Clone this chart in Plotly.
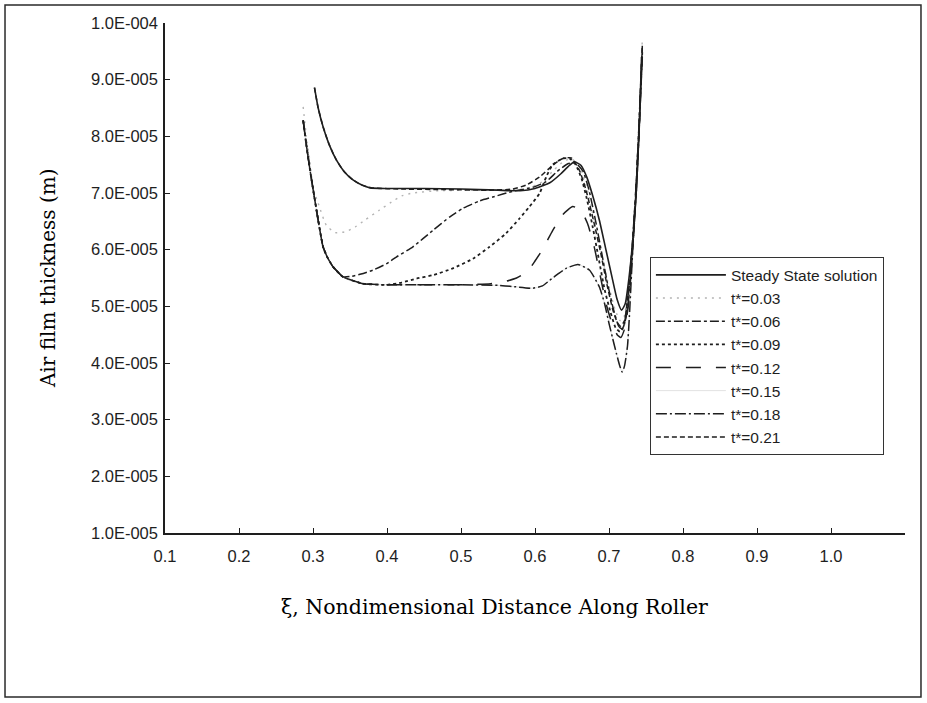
import plotly.graph_objects as go

# ---------------- data (x: nondimensional distance, y: air film thickness in m) ----------------
steady_x = [0.302, 0.307, 0.3136, 0.322, 0.3317, 0.342, 0.354, 0.366, 0.377, 0.40, 0.45, 0.50, 0.55, 0.58,
            0.60, 0.62, 0.635, 0.645, 0.653, 0.662, 0.67, 0.678, 0.687, 0.696, 0.704, 0.711, 0.717, 0.722,
            0.727, 0.732, 0.737, 0.741, 0.744]
steady_y = [8.86e-5, 8.50e-5, 8.17e-5, 7.85e-5, 7.58e-5, 7.38e-5, 7.23e-5, 7.14e-5, 7.09e-5, 7.08e-5, 7.08e-5,
            7.07e-5, 7.05e-5, 7.04e-5, 7.08e-5, 7.18e-5, 7.34e-5, 7.47e-5, 7.55e-5, 7.49e-5, 7.28e-5, 6.95e-5,
            6.52e-5, 5.99e-5, 5.52e-5, 5.12e-5, 4.93e-5, 5.05e-5, 5.50e-5, 6.15e-5, 7.05e-5, 8.20e-5, 9.40e-5]

t003_x = [0.2867, 0.291, 0.296, 0.300, 0.307, 0.318, 0.330, 0.345, 0.357, 0.370, 0.390, 0.406, 0.420, 0.435,
          0.470, 0.520, 0.560, 0.590, 0.610, 0.625, 0.640, 0.650, 0.660, 0.670, 0.680, 0.690, 0.700, 0.708,
          0.715, 0.720, 0.726, 0.732, 0.737, 0.741, 0.745]
t003_y = [8.52e-5, 8.00e-5, 7.55e-5, 7.10e-5, 6.82e-5, 6.43e-5, 6.30e-5, 6.32e-5, 6.40e-5, 6.52e-5, 6.70e-5,
          6.84e-5, 6.95e-5, 7.00e-5, 7.04e-5, 7.05e-5, 7.05e-5, 7.08e-5, 7.20e-5, 7.40e-5, 7.57e-5, 7.60e-5,
          7.45e-5, 7.10e-5, 6.50e-5, 5.90e-5, 5.35e-5, 4.95e-5, 4.75e-5, 4.80e-5, 5.30e-5, 6.10e-5, 7.10e-5,
          8.30e-5, 9.72e-5]

t006_x = [0.2867, 0.291, 0.296, 0.3047, 0.3136, 0.320, 0.327, 0.3406, 0.352, 0.365, 0.381, 0.399, 0.4126,
          0.435, 0.462, 0.485, 0.5026, 0.525, 0.543, 0.570, 0.597, 0.615, 0.630, 0.645, 0.655, 0.665, 0.673,
          0.682, 0.690, 0.698, 0.706, 0.713, 0.718, 0.723, 0.728, 0.733, 0.738, 0.742, 0.745]
t006_y = [8.28e-5, 7.85e-5, 7.40e-5, 6.70e-5, 6.05e-5, 5.85e-5, 5.70e-5, 5.52e-5, 5.53e-5, 5.57e-5, 5.64e-5,
          5.75e-5, 5.87e-5, 6.05e-5, 6.34e-5, 6.58e-5, 6.73e-5, 6.86e-5, 6.93e-5, 7.03e-5, 7.10e-5, 7.20e-5,
          7.38e-5, 7.52e-5, 7.53e-5, 7.38e-5, 7.05e-5, 6.50e-5, 5.95e-5, 5.40e-5, 4.95e-5, 4.65e-5, 4.60e-5,
          4.80e-5, 5.30e-5, 6.20e-5, 7.30e-5, 8.50e-5, 9.60e-5]

t009_x = [0.2867, 0.291, 0.296, 0.3047, 0.3136, 0.320, 0.327, 0.3406, 0.3676, 0.40, 0.42, 0.44, 0.462, 0.489,
          0.516, 0.5386, 0.561, 0.579, 0.5926, 0.606, 0.615, 0.624, 0.6376, 0.6466, 0.655, 0.663, 0.670,
          0.678, 0.686, 0.694, 0.702, 0.709, 0.715, 0.720, 0.726, 0.732, 0.737, 0.741, 0.745]
t009_y = [8.28e-5, 7.85e-5, 7.40e-5, 6.70e-5, 6.05e-5, 5.85e-5, 5.70e-5, 5.52e-5, 5.40e-5, 5.38e-5, 5.42e-5,
          5.49e-5, 5.55e-5, 5.67e-5, 5.84e-5, 6.05e-5, 6.29e-5, 6.55e-5, 6.76e-5, 6.99e-5, 7.28e-5, 7.50e-5,
          7.61e-5, 7.61e-5, 7.50e-5, 7.25e-5, 6.90e-5, 6.40e-5, 5.85e-5, 5.30e-5, 4.90e-5, 4.62e-5, 4.55e-5,
          4.65e-5, 5.20e-5, 6.10e-5, 7.10e-5, 8.30e-5, 9.50e-5]

t012_x = [0.2867, 0.291, 0.296, 0.3047, 0.3136, 0.320, 0.327, 0.3406, 0.3676, 0.40, 0.45, 0.50, 0.54, 0.56,
          0.575, 0.59, 0.60, 0.61, 0.624, 0.6376, 0.651, 0.662, 0.671, 0.680, 0.688, 0.696, 0.704, 0.711,
          0.716, 0.721, 0.726, 0.731, 0.736, 0.741, 0.745]
t012_y = [8.28e-5, 7.85e-5, 7.40e-5, 6.70e-5, 6.05e-5, 5.85e-5, 5.70e-5, 5.52e-5, 5.40e-5, 5.38e-5, 5.38e-5,
          5.38e-5, 5.40e-5, 5.44e-5, 5.50e-5, 5.62e-5, 5.80e-5, 6.00e-5, 6.34e-5, 6.62e-5, 6.76e-5, 6.70e-5,
          6.46e-5, 6.05e-5, 5.55e-5, 5.05e-5, 4.70e-5, 4.50e-5, 4.45e-5, 4.60e-5, 5.00e-5, 5.90e-5, 7.00e-5,
          8.30e-5, 9.50e-5]

low_x = [0.2867, 0.291, 0.296, 0.3047, 0.3136, 0.320, 0.327, 0.3406, 0.3676, 0.40, 0.45, 0.50, 0.55, 0.57,
         0.597, 0.61, 0.62, 0.632, 0.642, 0.658, 0.6735, 0.687, 0.694, 0.700, 0.705, 0.710, 0.7145, 0.7177,
         0.721, 0.725, 0.7275, 0.732, 0.7365, 0.741, 0.745]
low_y = [8.28e-5, 7.85e-5, 7.40e-5, 6.70e-5, 6.05e-5, 5.85e-5, 5.70e-5, 5.52e-5, 5.40e-5, 5.38e-5, 5.38e-5,
         5.38e-5, 5.37e-5, 5.35e-5, 5.32e-5, 5.36e-5, 5.46e-5, 5.58e-5, 5.67e-5, 5.74e-5, 5.64e-5, 5.34e-5,
         5.05e-5, 4.70e-5, 4.43e-5, 4.17e-5, 3.95e-5, 3.84e-5, 3.95e-5, 4.30e-5, 4.81e-5, 5.99e-5, 7.00e-5,
         8.20e-5, 9.40e-5]

t021_x = [0.302, 0.307, 0.3136, 0.322, 0.3317, 0.342, 0.354, 0.366, 0.38, 0.42, 0.48, 0.54, 0.57, 0.588,
          0.606, 0.624, 0.6376, 0.649, 0.660, 0.669, 0.680, 0.689, 0.697, 0.705, 0.711, 0.716, 0.721, 0.726,
          0.731, 0.736, 0.741, 0.745]
t021_y = [8.86e-5, 8.50e-5, 8.17e-5, 7.85e-5, 7.58e-5, 7.38e-5, 7.23e-5, 7.14e-5, 7.09e-5, 7.07e-5, 7.06e-5,
          7.05e-5, 7.07e-5, 7.14e-5, 7.28e-5, 7.49e-5, 7.61e-5, 7.62e-5, 7.40e-5, 7.05e-5, 6.46e-5, 5.93e-5,
          5.40e-5, 4.95e-5, 4.72e-5, 4.65e-5, 4.75e-5, 5.25e-5, 6.00e-5, 7.00e-5, 8.30e-5, 9.60e-5]

x_ticks = [0.1, 0.2, 0.3, 0.4, 0.5, 0.6, 0.7, 0.8, 0.9, 1.0]
x_ticktext = ["0.1", "0.2", "0.3", "0.4", "0.5", "0.6", "0.7", "0.8", "0.9", "1.0"]
y_ticks = [1e-5, 2e-5, 3e-5, 4e-5, 5e-5, 6e-5, 7e-5, 8e-5, 9e-5, 1e-4]
y_ticktext = ["1.0E-005", "2.0E-005", "3.0E-005", "4.0E-005", "5.0E-005",
              "6.0E-005", "7.0E-005", "8.0E-005", "9.0E-005", "1.0E-004"]

# ---------------- figure ----------------
INK = "#1e1e1e"
fig = go.Figure()

def add(x, y, name, dash, color=INK, width=1.5, rank=1):
    fig.add_trace(go.Scatter(x=x, y=y, mode="lines", name=name, legendrank=rank,
                             line=dict(color=color, width=width, dash=dash, shape="spline", smoothing=0.5)))

# drawing order (faint ones underneath), legend order via legendrank
add(low_x, low_y, "t*=0.15", "solid", color="#e2e2e2", width=1.0, rank=6)
add(t003_x, t003_y, "t*=0.03", "2px,5px", color="#b4b4b4", width=1.4, rank=2)
add(low_x, low_y, "t*=0.18", "11px,3px,2px,3px", rank=7)
add(t012_x, t012_y, "t*=0.12", "longdash", rank=5)
add(t009_x, t009_y, "t*=0.09", "dot", width=1.8, rank=4)
add(t006_x, t006_y, "t*=0.06", "dashdot", rank=3)
add(t021_x, t021_y, "t*=0.21", "5px,3px", rank=8)
add(steady_x, steady_y, "Steady State solution", "solid", width=1.6, rank=1)

fig.update_layout(
    width=927, height=703,
    margin=dict(l=165, r=22, t=23, b=170),
    paper_bgcolor="white", plot_bgcolor="white",
    font=dict(family="Arial, Liberation Sans, sans-serif", color=INK, size=16),
    showlegend=True,
    legend=dict(x=0.655, y=0.541, xanchor="left", yanchor="top",
                bgcolor="white", bordercolor="#333333", borderwidth=1.2,
                font=dict(family="Arial, Liberation Sans, sans-serif", size=15.5, color=INK),
                itemwidth=70, tracegroupgap=0),
    xaxis=dict(range=[0.1, 1.1], tickvals=x_ticks, ticktext=x_ticktext,
               showline=True, linecolor=INK, linewidth=1.5, showgrid=False, zeroline=False,
               ticks="inside", ticklen=5, tickcolor=INK, tickwidth=1,
               tickfont=dict(size=16.5), ticklabelstandoff=7),
    yaxis=dict(range=[1e-5, 1e-4], tickvals=y_ticks, ticktext=y_ticktext,
               showline=True, linecolor=INK, linewidth=1.5, showgrid=False, zeroline=False,
               ticks="inside", ticklen=5, tickcolor=INK, tickwidth=1,
               tickfont=dict(size=16.5), ticklabelstandoff=2),
    annotations=[
        dict(text="Air film thickness (m)", xref="paper", yref="paper", x=-0.158, y=0.5,
             xanchor="center", yanchor="middle", textangle=-90, showarrow=False,
             font=dict(family="DejaVu Serif, serif", size=20, color="#000000")),
        dict(text="ξ, Nondimensional Distance Along Roller", xref="paper", yref="paper",
             x=0.445, y=-0.145, xanchor="center", yanchor="middle", showarrow=False,
             font=dict(family="DejaVu Serif, serif", size=20.5, color="#000000")),
    ],
    shapes=[dict(type="rect", xref="paper", yref="paper",
                 x0=-0.2162, x1=1.0216, y0=-0.3216, y1=1.0353,
                 line=dict(color="#2a2a2a", width=1.5), fillcolor="rgba(0,0,0,0)", layer="below")],
)

fig.write_html("out.html")
